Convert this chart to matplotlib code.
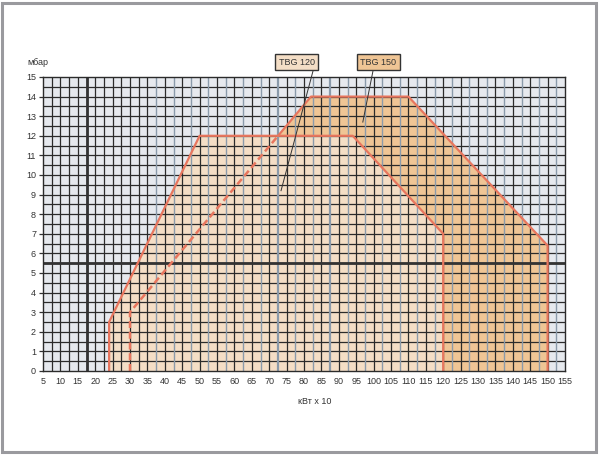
import numpy as np
import matplotlib
matplotlib.use("Agg")
import matplotlib.pyplot as plt
from matplotlib.patches import Polygon, Rectangle, PathPatch
from matplotlib.path import Path

plt.rcParams['font.family'] = ['Liberation Sans Narrow', 'Liberation Sans', 'DejaVu Sans']

# Working fields (kW x 10, mbar)
tbg120_kw = [24, 24, 50, 94, 120, 120]
tbg120_mbar = [0, 2.5, 12, 12, 7, 0]
tbg150_kw = [30, 30, 82, 110, 150, 150]
tbg150_mbar = [0, 3, 14, 14, 6.4, 0]

x_ticks = list(range(5, 156, 5))
y_ticks = list(range(0, 16))

# labels and where their leader lines point
labels = ["TBG 120", "TBG 150"]
label_pos = [(77.9, 15.75), (101.3, 15.75)]
leader_from = [(82.7, 15.38), (99.9, 15.38)]
leader_to = [(73.4, 9.2), (96.9, 12.7)]

col_light = '#f4dec6'
col_dark = '#efc595'
col_edge = '#e8765e'
col_bg = '#e6e9ee'

fig = plt.figure(figsize=(5.99, 4.55), dpi=100)
ax = fig.add_axes([43/599, 1 - 371/455, 522/599, 294/455])
ax.set_facecolor(col_bg)
ax.set_xlim(5, 155)
ax.set_ylim(0, 15)

ptsA = np.column_stack([tbg120_kw, tbg120_mbar])
ptsB = np.column_stack([tbg150_kw, tbg150_mbar])

# fills
ax.add_patch(Polygon(ptsB, closed=True, facecolor=col_dark, edgecolor='none', zorder=1))
ax.add_patch(Polygon(ptsA, closed=True, facecolor=col_light, edgecolor='none', zorder=1.1))

# grid
for y in np.arange(0.5, 15, 0.5):
    ax.axhline(y, color='#2b2b2b', lw=0.9, zorder=2)
for x in np.arange(7.5, 155, 2.5):
    if x >= 37.5 and (x / 2.5) % 2 == 1:
        w = 1.6 if x in (72.5, 87.5) else 1.0
        ax.axvline(x, color='#8a9aaa', lw=w, zorder=2)
    else:
        ax.axvline(x, color='#2b2b2b', lw=0.9, zorder=2)
ax.axvline(17.5, color='#333333', lw=2.0, zorder=2.2)
ax.axhline(5.5, color='#333333', lw=2.0, zorder=2.2)

# TBG 150 outline: solid outside the TBG 120 field, dashed inside it
solid_b, = ax.plot(tbg150_kw, tbg150_mbar, color=col_edge, lw=1.6, zorder=3)
dash_b, = ax.plot(tbg150_kw, tbg150_mbar, color=col_edge, lw=1.8, zorder=3.1,
                  linestyle=(0, (2.8, 1.5)))
dash_b.set_clip_path(Polygon(ptsA, closed=True, transform=ax.transData))

box = np.array([(0, -5), (0, 20), (200, 20), (200, -5), (0, -5)])
holeA = np.vstack([ptsA, ptsA[:1]])
# make sure the hole winds opposite to the outer box
def area(p):
    return 0.5 * np.sum(p[:-1, 0] * p[1:, 1] - p[1:, 0] * p[:-1, 1])
if np.sign(area(holeA)) == np.sign(area(box)):
    holeA = holeA[::-1]
outside = Path.make_compound_path(Path(box), Path(holeA))
solid_b.set_clip_path(PathPatch(outside, transform=ax.transData))

ax.plot(tbg120_kw, tbg120_mbar, color=col_edge, lw=1.6, zorder=3.2)

for s in ax.spines.values():
    s.set_color('#2b2b2b')
    s.set_linewidth(1.0)
    s.set_zorder(4)

ax.set_xticks(x_ticks)
ax.set_yticks(y_ticks)
ax.tick_params(axis='x', length=0, pad=4, labelsize=6.5, colors='#333333')
ax.tick_params(axis='y', length=3, width=0.9, pad=2, labelsize=6.5,
               colors='#333333', direction='out')

ax.set_xlabel('кВт x 10', fontsize=6.5, color='#333333')
ax.xaxis.set_label_coords((315 - 43) / 522, -0.088)
ax.text(-0.03, 1.05, 'мбар', transform=ax.transAxes, fontsize=6.5,
        color='#333333', ha='left', va='center')

for lab, pos, p0, p1, fc in zip(labels, label_pos, leader_from, leader_to,
                                [col_light, col_dark]):
    ax.plot([p0[0], p1[0]], [p0[1], p1[1]], color='#333333', lw=0.7,
            clip_on=False, zorder=5)
    ax.text(pos[0], pos[1], lab, fontsize=6.5, color='#333333',
            ha='center', va='center', zorder=6,
            bbox=dict(boxstyle='square,pad=0.4', facecolor=fc,
                      edgecolor='#333333', lw=1.0))

fig.patches.append(Rectangle((2/599, 3/455), 594/599, 449/455,
                             transform=fig.transFigure, fill=False,
                             edgecolor='#9a9a9e', lw=2.2))

fig.savefig('out.png', dpi=100)
